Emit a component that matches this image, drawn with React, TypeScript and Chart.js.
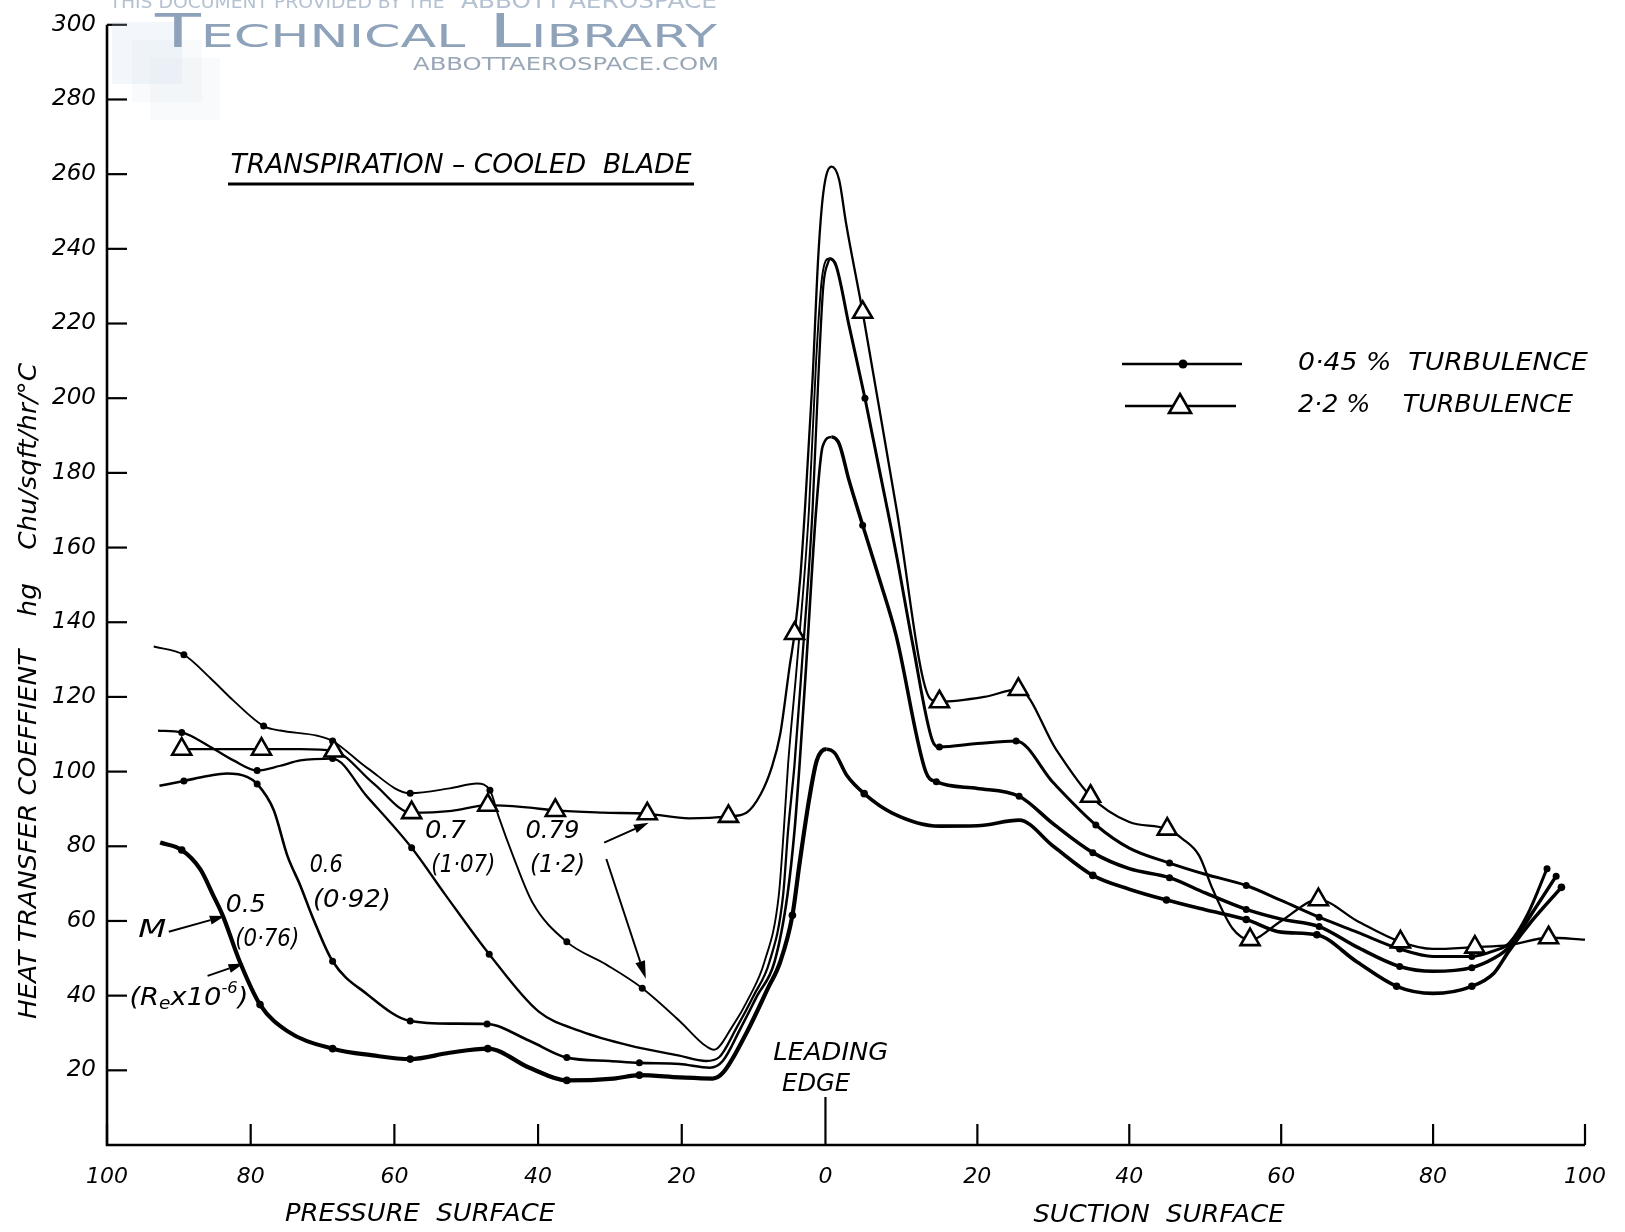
import React, { useEffect, useRef } from 'react';
import { Chart, registerables, LinearScale } from 'chart.js';

Chart.register(...registerables);

// Piecewise-linear x scale: the printed axis has its pressure half slightly narrower than its suction half.
const SPLIT = 0.4861;
class SplitScale extends (LinearScale as any) {
  getPixelForValue(value: any) {
    if (value === null || value === undefined) return NaN;
    const min = (this as any).min, max = (this as any).max;
    const dec = value <= 0 ? SPLIT * (value - min) / (0 - min) : SPLIT + (1 - SPLIT) * value / max;
    return (this as any).getPixelForDecimal(dec);
  }
  getValueForPixel(pixel: number) {
    const min = (this as any).min, max = (this as any).max;
    const dec = (this as any).getDecimalForPixel(pixel);
    return dec <= SPLIT ? min + (dec / SPLIT) * (0 - min) : ((dec - SPLIT) / (1 - SPLIT)) * max;
  }
}
(SplitScale as any).id = 'split';
(SplitScale as any).defaults = (LinearScale as any).defaults;
Chart.register(SplitScale as any);

// ---------------- data ----------------
// x: % of surface length (pressure surface negative, suction positive); y: hg, Chu/sqft/hr/°C
const xTicks = [-100, -80, -60, -40, -20, 0, 20, 40, 60, 80, 100];
const yTicks = [20, 40, 60, 80, 100, 120, 140, 160, 180, 200, 220, 240, 260, 280, 300];

// 2.2 % turbulence, M 0.79 (Re 1.2e6)
const t22X = [-89.6, -84, -78.5, -73, -68.4, -63, -57.6, -52, -47, -42, -37.6, -31, -24.8, -19, -13.5, -11, -9, -7.5, -6.3, -5.0, -4.3, -3.5, -2.8, -1.8, -1.0, -0.3, 0.8, 1.8, 2.7, 4.9, 9.3, 13.8, 15, 20.9, 25.4, 30.4, 34.9, 40, 45, 47, 49.2, 51, 53.6, 55.9, 60, 64.9, 70, 75.7, 80, 85.5, 90, 95.2, 100];
const t22Y = [106, 106, 106, 106, 105.5, 97, 89, 89.5, 91, 90.5, 89.6, 89, 88.7, 87.5, 88, 89, 94, 101, 110, 128, 137, 152, 172, 205, 238, 255, 262, 258.5, 247, 223, 171, 119.5, 118.7, 120, 122, 105.8, 93.4, 86.5, 84.6, 82, 77.5, 68.4, 58, 55, 60, 65.7, 60, 54.4, 52.5, 53, 53.5, 55.5, 55];
const t22Marks = [-89.6, -78.5, -68.4, -57.6, -47, -37.6, -24.8, -13.5, -4.3, 4.9, 15, 25.4, 34.9, 45, 55.9, 64.9, 75.7, 85.5, 95.2];

// 0.45 % turbulence, M 0.79 (Re 1.2e6)
const m079X = [-93.5, -89.3, -85.6, -82.4, -78.2, -75.9, -70.7, -68.6, -63.8, -57.8, -52.3, -48.5, -46.7, -45.5, -43.5, -40.8, -36, -30.5, -25.5, -20.3, -17, -15.5, -13.1, -10.5, -8.5, -6.5, -5.8, -5.2, -4.0, -2.3, -1.3, -0.5, 0.5, 1.4, 3.1, 5.2, 7.1, 9.3, 11.5, 14.1, 15, 20, 25.1, 30, 35.6, 40, 45.3, 50, 55.4, 60, 65, 70, 75.6, 80, 85.1, 88, 90, 92.5, 95];
const m079Y = [133.5, 131.3, 125, 119, 112.2, 111, 109.6, 108.2, 101, 94.2, 95.5, 96.8, 95, 88, 77.5, 65, 54.4, 48.3, 42, 33.2, 27, 25.5, 31.3, 40, 49, 66.8, 84.3, 102, 128, 170, 210, 232, 237.4, 235.5, 219.5, 200, 180.8, 158.5, 134, 108.2, 106.6, 107.5, 108.2, 97, 85.7, 79.5, 75.5, 72.5, 69.5, 65.5, 61, 57, 52.5, 50.5, 50.5, 52, 54, 62, 74];
const m079Marks = [-89.3, -78.2, -68.6, -57.8, -46.7, -36, -25.5, 5.2, 15, 25.1, 35.6, 45.3, 55.4, 65, 75.6, 85.1, 95];

// 0.45 % turbulence, M 0.7 (Re 1.07e6)
const m07X = [-92.9, -89.6, -85.6, -82.4, -79.1, -76, -73.1, -68.6, -63.8, -57.6, -52.9, -46.8, -39.9, -34.1, -27.2, -20.5, -16.6, -14.8, -12.4, -10, -7.8, -5.9, -5.2, -4.3, -3.3, -1.8, -1.0, -0.3, 0.5];
const m07Y = [111, 110.5, 106.6, 103, 100.3, 101.5, 103, 103.5, 93.3, 79.6, 67, 51.1, 35.7, 30.5, 26.6, 24, 22.5, 23.5, 31.3, 40, 49, 66.8, 84.3, 102, 128, 170, 205, 230, 237.4];
const m07Marks = [-89.6, -79.1, -68.6, -57.6, -46.8];

// 0.45 % turbulence, M 0.6 (Re 0.92e6)
const m06X = [-92.7, -89.3, -86, -83.3, -80.5, -79.1, -76.8, -74.9, -73.1, -71.3, -68.6, -63.8, -57.8, -52, -47.1, -41.2, -36, -30, -25.9, -20.3, -16.1, -14.3, -11.8, -9.5, -7.1, -5.3, -4.3, -3.6, -2.7, -1.3, -0.4, 0.8, 1.8, 3.1, 4.9, 7.1, 9.3, 13.2, 14.6, 20, 25.5, 30, 35.2, 40, 45.3, 50, 55.4, 60, 65, 70, 75.6, 80, 85.1, 88, 90, 93, 96.2];
const m06Y = [96.2, 97.5, 98.8, 99.5, 98.6, 96.7, 89.7, 77.5, 69.5, 60.6, 49.2, 40.4, 33.2, 32.5, 32.4, 27.9, 23.4, 22.5, 22, 21.7, 20.7, 22.5, 31.3, 40, 49, 66.8, 84.3, 102, 128, 170, 187, 189.6, 187.8, 178, 166, 151.6, 136.5, 100, 97.3, 95.5, 93.4, 86, 78.3, 74, 71.6, 67.5, 63.1, 60.5, 58.5, 53, 47.8, 46.5, 47.5, 50, 53, 62, 72];
const m06Marks = [-89.3, -79.1, -68.6, -57.8, -47.1, -36, -25.9, 4.9, 14.6, 25.5, 35.2, 45.3, 55.4, 65, 75.6, 85.1, 96.2];

// 0.45 % turbulence, M 0.5 (Re 0.76e6)
const m05X = [-92.6, -89.6, -87, -85.2, -83.9, -81.5, -78.7, -74.9, -68.6, -63, -57.8, -52.3, -47, -41.2, -36, -29.5, -25.9, -20.3, -15.7, -14.2, -11, -8, -6.3, -4.6, -3.6, -2.2, -1.2, 0.1, 1.2, 2.8, 5.1, 8.8, 15, 20, 25.5, 30, 35.2, 40, 44.9, 50, 55.4, 60, 64.7, 70, 75.2, 80, 85.1, 88, 90, 93, 96.9];
const m05Y = [81, 79, 73.8, 66.8, 61.5, 49, 37.6, 30.5, 25.8, 24, 23, 24.7, 25.8, 20.7, 17.3, 17.8, 18.7, 18.1, 17.8, 19.5, 30, 42, 49, 61.5, 75.5, 93.4, 103, 106, 105, 99, 94.1, 88.9, 85.4, 85.5, 87, 80, 72.2, 68.5, 65.6, 63, 60.4, 57, 56.3, 49, 42.5, 40.6, 42.5, 46, 52, 60, 69];
const m05Marks = [-89.6, -78.7, -68.6, -57.8, -47, -36, -25.9, -4.6, 5.1, 35.2, 44.9, 55.4, 64.7, 75.2, 85.1, 96.9];

// ---------------- helpers ----------------
const FAM = '"DejaVu Sans", "Liberation Sans", Arial, sans-serif';
const W = 1625;
const H = 1232;

const pts = (xs: number[], ys: number[]) => xs.map((x, i) => ({ x, y: ys[i] }));

function fitText(ctx: CanvasRenderingContext2D, text: string, cx: number, cy: number, width: number, size: number, style = 'italic', align = 'center') {
  ctx.save();
  ctx.font = `${style} ${size}px ${FAM}`;
  ctx.textBaseline = 'middle';
  ctx.textAlign = 'left';
  const m = ctx.measureText(text).width;
  const x0 = align === 'center' ? cx - width / 2 : align === 'right' ? cx - width : cx;
  ctx.translate(x0, cy);
  ctx.scale(width / m, 1);
  ctx.fillText(text, 0, 0);
  ctx.restore();
}

function arrow(ctx: CanvasRenderingContext2D, x1: number, y1: number, x2: number, y2: number, head = 15, half = 4.5) {
  const a = Math.atan2(y2 - y1, x2 - x1);
  const bx = x2 - head * Math.cos(a);
  const by = y2 - head * Math.sin(a);
  ctx.beginPath();
  ctx.moveTo(x1, y1);
  ctx.lineTo(bx, by);
  ctx.stroke();
  ctx.beginPath();
  ctx.moveTo(x2, y2);
  ctx.lineTo(bx + half * Math.sin(a), by - half * Math.cos(a));
  ctx.lineTo(bx - half * Math.sin(a), by + half * Math.cos(a));
  ctx.closePath();
  ctx.fill();
}

const decor = {
  id: 'decor',
  beforeDraw(chart: any) {
    const ctx = chart.ctx;
    ctx.save();
    ctx.fillStyle = '#fff';
    ctx.fillRect(0, 0, chart.width, chart.height);
    ctx.restore();
  },
  afterDraw(chart: any) {
    const ctx: CanvasRenderingContext2D = chart.ctx;
    const xs = chart.scales.x;
    const ys = chart.scales.y;
    const X = (v: number) => xs.getPixelForValue(v);
    const Y = (v: number) => ys.getPixelForValue(v);
    const a = chart.chartArea;
    ctx.save();
    ctx.strokeStyle = '#000';
    ctx.fillStyle = '#000';
    ctx.lineCap = 'butt';

    // axis lines
    ctx.lineWidth = 2.6;
    ctx.beginPath();
    ctx.moveTo(a.left, Y(300));
    ctx.lineTo(a.left, a.bottom);
    ctx.lineTo(a.right, a.bottom);
    ctx.stroke();

    // inward tick marks
    ctx.lineWidth = 2.2;
    ys.ticks.forEach((t: any) => {
      if (t.value === 0) return;
      ctx.beginPath();
      ctx.moveTo(a.left, Y(t.value));
      ctx.lineTo(a.left + 20, Y(t.value));
      ctx.stroke();
    });
    xs.ticks.forEach((t: any) => {
      const len = t.value === 0 ? 48 : 21;
      ctx.beginPath();
      ctx.moveTo(X(t.value), a.bottom);
      ctx.lineTo(X(t.value), a.bottom - len);
      ctx.stroke();
    });

    // y axis title
    ctx.save();
    ctx.translate(29, 691);
    ctx.rotate(-Math.PI / 2);
    fitText(ctx, 'HEAT TRANSFER COEFFIENT    hg    Chu/sqft/hr/°C', 0, 0, 656, 25);
    ctx.restore();

    // x axis titles
    fitText(ctx, 'PRESSURE  SURFACE', 420, 1214, 270, 25);
    fitText(ctx, 'SUCTION  SURFACE', 1159, 1215, 251, 25);

    // chart title
    fitText(ctx, 'TRANSPIRATION – COOLED  BLADE', 461, 166, 461, 26);
    ctx.lineWidth = 3;
    ctx.beginPath();
    ctx.moveTo(228, 184);
    ctx.lineTo(694, 184);
    ctx.stroke();

    // legend
    ctx.lineWidth = 2.5;
    ctx.beginPath();
    ctx.moveTo(1122, 364);
    ctx.lineTo(1242, 364);
    ctx.stroke();
    ctx.beginPath();
    ctx.arc(1183, 364, 4.5, 0, Math.PI * 2);
    ctx.fill();
    fitText(ctx, '0·45 %  TURBULENCE', 1298, 363, 290, 25, 'italic', 'left');
    ctx.beginPath();
    ctx.moveTo(1125, 406);
    ctx.lineTo(1236, 406);
    ctx.stroke();
    ctx.save();
    ctx.fillStyle = '#fff';
    ctx.beginPath();
    ctx.moveTo(1180, 394);
    ctx.lineTo(1191, 413);
    ctx.lineTo(1169, 413);
    ctx.closePath();
    ctx.fill();
    ctx.lineWidth = 2.6;
    ctx.stroke();
    ctx.restore();
    fitText(ctx, '2·2 %    TURBULENCE', 1298, 405, 275, 25, 'italic', 'left');

    // curve annotations (anchored to data coordinates)
    const notes: [string, number, number, number][] = [
      ['0.7', -52.9, 83.8, 41],
      ['(1·07)', -50.4, 74.7, 64],
      ['0.79', -38, 83.8, 54],
      ['(1·2)', -37.3, 74.7, 55],
      ['0.6', -69.5, 74.7, 33],
      ['(0·92)', -65.9, 65.4, 78],
      ['0.5', -80.7, 64, 40],
      ['(0·76)', -77.7, 54.9, 64],
      ['M', -93.7, 57.4, 28],
      ['LEADING', 0.7, 24.5, 115],
      ['EDGE', -1.3, 16.2, 68],
    ];
    notes.forEach(([t, vx, vy, w]) => fitText(ctx, t, X(vx), Y(vy), w, 24));

    // (Re x 10^-6)
    {
      const parts: [string, number, number][] = [['(R', 25, 0], ['e', 17, 6], ['x10', 25, 0], ['-6', 15, -9], [')', 25, 0]];
      let total = 0;
      const widths = parts.map(([t, s]) => {
        ctx.font = `italic ${s}px ${FAM}`;
        const w = ctx.measureText(t).width;
        total += w;
        return w;
      });
      const target = 119;
      const k = target / total;
      let cx = X(-88.6) - target / 2;
      const cy = Y(39.3);
      ctx.textBaseline = 'middle';
      ctx.textAlign = 'left';
      parts.forEach(([t, s, dy], i) => {
        ctx.save();
        ctx.font = `italic ${s}px ${FAM}`;
        ctx.translate(cx, cy + dy);
        ctx.scale(k, 1);
        ctx.fillText(t, 0, 0);
        ctx.restore();
        cx += widths[i] * k;
      });
    }

    // arrows
    ctx.lineWidth = 2;
    arrow(ctx, X(-91.4), Y(57.1), X(-83.6), Y(61.3));
    arrow(ctx, X(-86), Y(45.3), X(-81), Y(48.6));
    arrow(ctx, X(-30.8), Y(81), X(-24.6), Y(86.3));
    arrow(ctx, X(-30.5), Y(76.6), X(-25), Y(44.5), 18, 5);

    // watermark
    ctx.save();
    ctx.globalAlpha = 0.22;
    ctx.fillStyle = '#c9d6e6';
    ctx.fillRect(112, 22, 70, 62);
    ctx.fillStyle = '#dde6f0';
    ctx.fillRect(132, 40, 70, 62);
    ctx.fillRect(150, 58, 70, 62);
    ctx.restore();
    ctx.save();
    ctx.fillStyle = '#b4c1d1';
    fitText(ctx, 'THIS DOCUMENT PROVIDED BY THE', 277, 3, 335, 18, 'normal');
    fitText(ctx, 'ABBOTT AEROSPACE', 589, 2, 256, 22, 'normal');
    ctx.fillStyle = '#8ea2ba';
    ctx.font = `small-caps 46px ${FAM}`;
    ctx.textBaseline = 'alphabetic';
    const tl = 'Technical Library';
    const mw = ctx.measureText(tl).width;
    ctx.translate(155, 47);
    ctx.scale(562 / mw, 1);
    ctx.fillText(tl, 0, 0);
    ctx.restore();
    ctx.save();
    ctx.fillStyle = '#98a6b6';
    fitText(ctx, 'ABBOTTAEROSPACE.COM', 566, 66, 306, 17, 'normal');
    ctx.restore();

    ctx.restore();
  },
};

export default function App() {
  const ref = useRef<HTMLCanvasElement | null>(null);

  useEffect(() => {
    if (!ref.current) return;
    const dotRadius = (marks: number[], r: number) => (c: any) => (c.raw && marks.includes(c.raw.x) ? r : 0);
    const base = {
      cubicInterpolationMode: 'monotone',
      borderColor: '#000',
      pointBackgroundColor: '#000',
      pointBorderColor: '#000',
      pointBorderWidth: 0,
      fill: false,
    };
    const chart = new Chart(ref.current, {
      type: 'line',
      data: {
        datasets: [
          {
            ...base,
            label: '2.2 % turbulence, M 0.79 (1.2)',
            data: pts(t22X, t22Y),
            borderWidth: 2.3,
            pointStyle: 'triangle',
            pointRadius: dotRadius(t22Marks, 11),
            pointBackgroundColor: '#fff',
            pointBorderWidth: 2.6,
          },
          {
            ...base,
            label: '0.45 % turbulence, M 0.79 (1.2)',
            data: pts(m079X, m079Y),
            borderWidth: 2,
            segment: { borderWidth: (c: any) => (c.p0.parsed.x >= 0 ? 3 : 1.9) },
            pointRadius: dotRadius(m079Marks, 3.5),
          },
          {
            ...base,
            label: '0.45 % turbulence, M 0.7 (1.07)',
            data: pts(m07X, m07Y),
            borderWidth: 2.3,
            pointRadius: dotRadius(m07Marks, 3.5),
          },
          {
            ...base,
            label: '0.45 % turbulence, M 0.6 (0.92)',
            data: pts(m06X, m06Y),
            borderWidth: 2.6,
            segment: { borderWidth: (c: any) => (c.p0.parsed.x >= 0 ? 3.5 : 2.6) },
            pointRadius: dotRadius(m06Marks, 3.5),
          },
          {
            ...base,
            label: '0.45 % turbulence, M 0.5 (0.76)',
            data: pts(m05X, m05Y),
            borderWidth: 4,
            segment: { borderWidth: (c: any) => (c.p0.parsed.x >= 0 ? 3.6 : 4.2) },
            pointRadius: dotRadius(m05Marks, 3.8),
          },
        ],
      } as any,
      options: {
        animation: false,
        responsive: true,
        maintainAspectRatio: false,
        events: [],
        layout: { padding: { top: 15, right: 39, left: 0, bottom: 0 } },
        plugins: { legend: { display: false }, tooltip: { enabled: false } },
        scales: {
          x: {
            type: 'split',
            min: -100,
            max: 100,
            ticks: {
              stepSize: 20,
              autoSkip: false,
              maxRotation: 0,
              padding: 19,
              color: '#000',
              font: { family: FAM, size: 22, style: 'italic' },
              callback: (v: any) => String(Math.abs(Number(v))),
            },
            grid: { display: false, drawTicks: false },
            border: { display: false },
            afterFit: (s: any) => {
              s.height = 87;
            },
          },
          y: {
            type: 'linear',
            min: 0,
            max: 300,
            ticks: {
              stepSize: 20,
              autoSkip: false,
              padding: 11,
              color: '#000',
              font: { family: FAM, size: 23, style: 'italic' },
              callback: (v: any) => (Number(v) === 0 ? '' : String(v)),
            },
            grid: { display: false, drawTicks: false },
            border: { display: false },
            afterFit: (s: any) => {
              s.width = 107;
            },
          },
        },
      } as any,
      plugins: [decor as any],
    });
    return () => chart.destroy();
  }, []);

  return (
    <div style={{ position: 'fixed', left: 0, top: 0, width: W, height: H, background: '#fff' }}>
      <canvas ref={ref} />
    </div>
  );
}
